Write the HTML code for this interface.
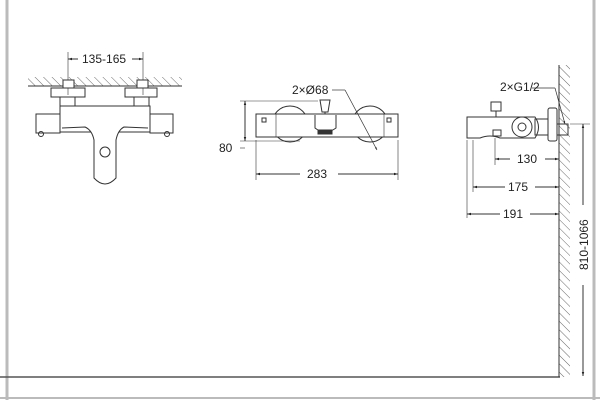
<!DOCTYPE html><html><head><style>body{margin:0;background:#fff}svg{display:block}text{font-family:"Liberation Sans",sans-serif;fill:#222}</style></head><body>
<svg width="600" height="400" viewBox="0 0 600 400">
<defs><pattern id="h" width="6" height="6" patternUnits="userSpaceOnUse" patternTransform="rotate(-45)"><line x1="0" y1="0" x2="0" y2="6" stroke="#444" stroke-width="0.8"/></pattern>
<marker id="a" viewBox="0 0 10 10" refX="10" refY="5" markerWidth="6" markerHeight="4" orient="auto-start-reverse"><path d="M0,2L10,5L0,8z" fill="#222"/></marker></defs>
<g stroke="#bbb" stroke-width="3"><line x1="7" y1="0" x2="7" y2="400"/><line x1="594" y1="0" x2="594" y2="400"/></g>
<line x1="0" y1="377" x2="560" y2="377" stroke="#555" stroke-width="1.5"/>
<line x1="0" y1="398" x2="600" y2="398" stroke="#bbb" stroke-width="2"/>
<g fill="none" stroke="#333" stroke-width="1">
<!-- left view -->
<rect x="28" y="77" width="154" height="9" fill="url(#h)" stroke="none"/><line x1="28" y1="86" x2="182" y2="86"/>
<line x1="68" y1="52" x2="68" y2="95" stroke-width="0.6"/><line x1="143" y1="52" x2="143" y2="95" stroke-width="0.6"/>
<line x1="68" y1="59" x2="78" y2="59" marker-start="url(#a)"/><line x1="132" y1="59" x2="143" y2="59" marker-end="url(#a)"/>
<rect x="63" y="80" width="11" height="8" fill="#fff"/><rect x="137" y="80" width="11" height="8" fill="#fff"/>
<rect x="51" y="88" width="34" height="9"/><rect x="125" y="88" width="32" height="9"/>
<rect x="60" y="97" width="15" height="9"/><rect x="134" y="97" width="15" height="9"/>
<rect x="60" y="106" width="90" height="26"/>
<rect x="36" y="114" width="24" height="19"/><rect x="150" y="114" width="23" height="19"/>
<circle cx="41" cy="134" r="2.5"/><circle cx="167" cy="134" r="2.5"/>
<path d="M62,128 L85,127 Q92,130 94,140 L94,178 Q105,190 116,178 L116,140 Q118,130 124,127 L148,128" fill="#fff"/>
<circle cx="105" cy="152" r="5"/>
<!-- middle view -->
<circle cx="290" cy="124" r="18"/><circle cx="370" cy="124" r="18"/>
<rect x="256" y="114" width="142" height="23" fill="#fff"/>
<line x1="276" y1="114" x2="276" y2="137" stroke-width="0.6"/><line x1="384" y1="114" x2="384" y2="137" stroke-width="0.6"/>
<rect x="262" y="118" width="4" height="4"/><rect x="387" y="118" width="4" height="4"/>
<path d="M315,115 L315,128 Q325,136 336,128 L336,115"/><rect x="318" y="130" width="14" height="4" fill="#333"/>
<path d="M320,100 L330,100 L328,112 L322,112 Z"/><line x1="325" y1="112" x2="325" y2="114"/>
<line x1="240" y1="101" x2="318" y2="101" stroke-width="0.6"/><line x1="240" y1="141" x2="300" y2="141" stroke-width="0.6"/>
<line x1="245" y1="101" x2="245" y2="141" marker-start="url(#a)" marker-end="url(#a)"/>
<line x1="245" y1="148" x2="240" y2="148" stroke-width="0.6"/>
<line x1="345" y1="90" x2="377" y2="150" marker-end="url(#a)" stroke-width="0.7"/><line x1="332" y1="90" x2="345" y2="90" stroke-width="0.7"/>
<line x1="256" y1="140" x2="256" y2="180" stroke-width="0.6"/><line x1="398" y1="140" x2="398" y2="180" stroke-width="0.6"/>
<line x1="256" y1="174" x2="300" y2="174" marker-start="url(#a)"/><line x1="338" y1="174" x2="398" y2="174" marker-end="url(#a)"/>
<!-- right view -->
<rect x="559" y="65" width="11" height="312" fill="url(#h)" stroke="none"/><line x1="559" y1="65" x2="559" y2="377"/>
<path d="M467,117 L535,117 Q542,127 535,138 L500,138 Q490,134 480,138 L467,138 Z"/>
<circle cx="522" cy="127" r="10"/><circle cx="522" cy="127" r="4"/>
<rect x="535" y="119" width="13" height="16"/>
<rect x="548" y="108" width="9" height="33" rx="2"/><rect x="557" y="124" width="11" height="11"/>
<rect x="491" y="102" width="10" height="9"/><line x1="496" y1="111" x2="496" y2="117"/>
<rect x="493" y="130" width="8" height="6"/>
<line x1="532" y1="88" x2="555" y2="88" stroke-width="0.7"/><line x1="555" y1="88" x2="565" y2="124" stroke-width="0.7" marker-end="url(#a)"/>
<line x1="495" y1="138" x2="495" y2="165" stroke-width="0.6"/><line x1="473" y1="140" x2="473" y2="192" stroke-width="0.6"/><line x1="467" y1="140" x2="467" y2="218" stroke-width="0.6"/>
<line x1="495" y1="159" x2="510" y2="159" marker-start="url(#a)"/><line x1="545" y1="159" x2="559" y2="159" marker-end="url(#a)"/>
<line x1="473" y1="187" x2="505" y2="187" marker-start="url(#a)"/><line x1="535" y1="187" x2="559" y2="187" marker-end="url(#a)"/>
<line x1="467" y1="214" x2="500" y2="214" marker-start="url(#a)"/><line x1="530" y1="214" x2="559" y2="214" marker-end="url(#a)"/>
<line x1="570" y1="124" x2="590" y2="124" stroke-width="0.6"/>
<line x1="583" y1="124" x2="583" y2="205" marker-start="url(#a)"/><line x1="583" y1="285" x2="583" y2="376" marker-end="url(#a)"/>
</g>
<g font-size="12">
<text x="82" y="63">135-165</text>
<text x="292" y="94">2×Ø68</text>
<text x="219" y="152">80</text>
<text x="307" y="178">283</text>
<text x="500" y="91">2×G1/2</text>
<text x="517" y="163">130</text>
<text x="508" y="191">175</text>
<text x="503" y="218">191</text>
<text x="0" y="0" transform="translate(588,270) rotate(-90)">810-1066</text>
</g>
</svg></body></html>
